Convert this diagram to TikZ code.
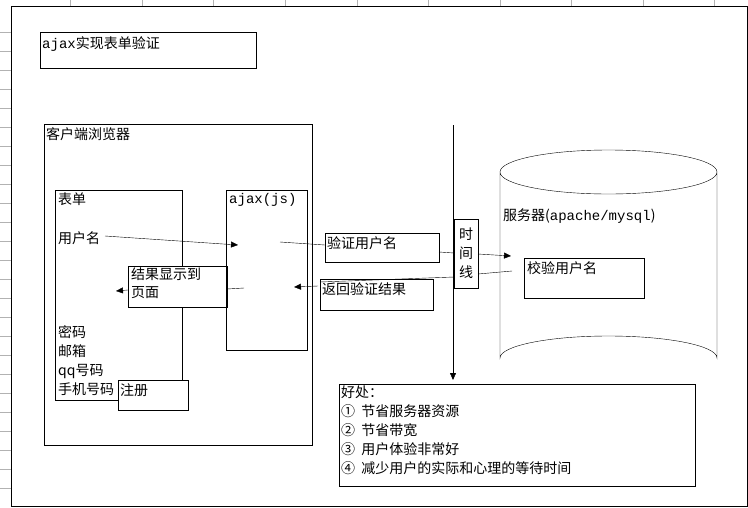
\documentclass[tikz,border=0pt]{standalone}
\usepackage{fontspec}
\setmainfont{Noto Sans CJK SC}
\setmonofont{Liberation Mono}
\usetikzlibrary{arrows.meta}

\begin{document}
\begin{tikzpicture}[x=1pt, y=-1pt, font=\fontsize{14}{17}\selectfont, -{Triangle[length=7pt,width=6pt]},
  box/.style={draw, -, inner sep=0pt},
  txt/.style={anchor=north west, inner sep=1pt, align=left}]
	\useasboundingbox (0,0) rectangle (748,507);
	% sheet grid
	\draw[-, gray!60] (11,6) -- (748,6) (11,6) -- (11,507);
	\foreach \x in {70,142,213,285,357,428,500,571,643,714} \draw[-, gray!60] (\x,0) -- (\x,6);
	\foreach \y in {32,51,70,89,108,127,146,165,184,203,222,241,260,279,298,317,336,355,374,393,412,431,450,469,488} \draw[-, gray!60] (0,\y) -- (11,\y);
	\draw[-] (11,6) rectangle (747,506);
	% title
	\draw[-] (40,32) rectangle (256,68);
	\node[txt] (title) at (41,35) {\ttfamily ajax\rmfamily 实现表单验证};
	% browser
	\draw[-] (44,124) rectangle (312,445);
	\node[txt] (browser) at (45,126) {客户端浏览器};
	\draw[-] (55,190) rectangle (182,400);
	\node[txt] (form) at (57,192) {表单};
	\node[txt] (user) at (57,230) {用户名};
	\node[txt, font=\fontsize{14}{19}\selectfont] (fields) at (57,324) {密码\\邮箱\\qq号码\\手机号码};
	\draw[-, fill=white] (118,380) rectangle (188,410);
	\node[txt] (reg) at (119,382) {注册};
	\draw[-, fill=white] (128,266) rectangle (227,307);
	\node[txt, font=\fontsize{14}{18}\selectfont] (show) at (130,267) {结果显示到\\页面};
	\draw[-] (226,190) rectangle (307,350);
	\node[txt] (ajax) at (228,192) {\ttfamily ajax(js)};
	\draw[-] (325,233) rectangle (439,262);
	\node[txt] (check) at (326,235) {验证用户名};
	\draw[-] (320,279) rectangle (433,310);
	\node[txt] (back) at (321,281) {返回验证结果};
	% time line
	\coordinate (tltop) at (453,125);
	\coordinate (tlbot) at (453,380);
	\draw (tltop) -- (tlbot);
	\draw[-, fill=white] (454,219) rectangle (478,288);
	\node[inner sep=0pt, align=center, font=\fontsize{14}{19}\selectfont] (timeline) at (466,253) {时\\间\\线};
	% server
	\draw[-] (500,172) arc[start angle=180, end angle=-180, x radius=108.5, y radius=22]
	  (500,172) -- (500,358) arc[start angle=180, end angle=360, x radius=108.5, y radius=22] -- (717,172);
	\node[txt] (server) at (502,208) {服务器(\ttfamily apache/mysql\rmfamily)};
	\draw[-] (524,258) rectangle (644,298);
	\node[txt] (verify) at (526,260) {校验用户名};
	% benefits
	\draw[-] (339,384) rectangle (695,486);
	\node[txt, font=\fontsize{14}{19}\selectfont] (good) at (340,385)
	  {好处：\\① \ 节省服务器资源\\② \ 节省带宽\\③ \ 用户体验非常好\\④ \ 减少用户的实际和心理的等待时间};
	% flow
	\coordinate (a1) at (105,236); \coordinate (a2) at (238,245);
	\coordinate (b1) at (280,242); \coordinate (b2) at (325,245);
	\coordinate (c1) at (439,252); \coordinate (c2) at (454,253);
	\coordinate (d1) at (478,254); \coordinate (d2) at (511,256);
	\coordinate (e1) at (512,271); \coordinate (e2) at (478,274);
	\coordinate (f1) at (454,277); \coordinate (f2) at (320,282);
	\coordinate (g1) at (318,286); \coordinate (g2) at (294,287);
	\coordinate (h1) at (244,288); \coordinate (h2) at (227,289);
	\coordinate (i1) at (128,290); \coordinate (i2) at (116,291);
	\draw (a1) -- (a2);
	\draw[-] (b1) -- (b2);
	\draw[-] (c1) -- (c2);
	\draw (d1) -- (d2);
	\draw[-] (e1) -- (e2);
	\draw[-] (f1) -- (f2);
	\draw (g1) -- (g2);
	\draw[-] (h1) -- (h2);
	\draw (i1) -- (i2);
\end{tikzpicture}
\end{document}
